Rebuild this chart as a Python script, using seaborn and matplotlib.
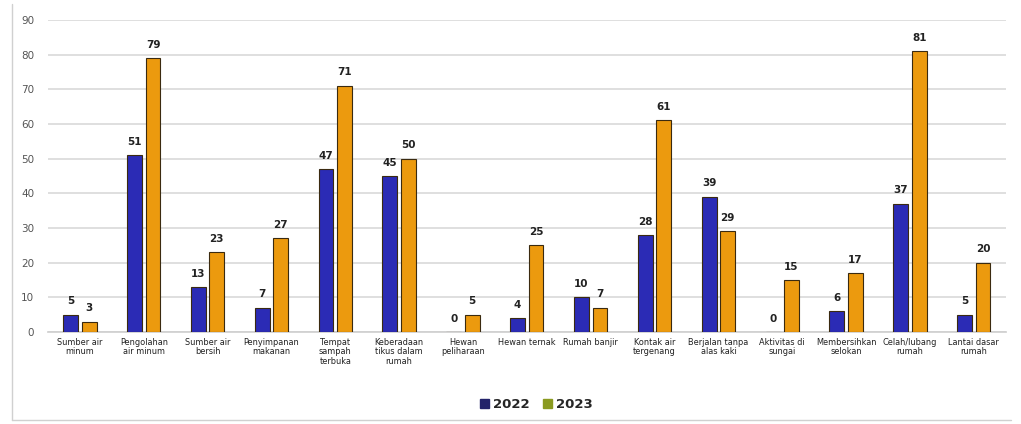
import matplotlib
matplotlib.use("Agg")
import matplotlib.pyplot as plt
from matplotlib.patches import Patch
from matplotlib.lines import Line2D
import seaborn as sns
import pandas as pd

categories = [
    "Sumber air\nminum", "Pengolahan\nair minum", "Sumber air\nbersih",
    "Penyimpanan\nmakanan", "Tempat\nsampah\nterbuka", "Keberadaan\ntikus dalam\nrumah",
    "Hewan\npeliharaan", "Hewan ternak", "Rumah banjir", "Kontak air\ntergenang",
    "Berjalan tanpa\nalas kaki", "Aktivitas di\nsungai", "Membersihkan\nselokan",
    "Celah/lubang\nrumah", "Lantai dasar\nrumah",
]
values_2022 = [5, 51, 13, 7, 47, 45, 0, 4, 10, 28, 39, 0, 6, 37, 5]
values_2023 = [3, 79, 23, 27, 71, 50, 5, 25, 7, 61, 29, 15, 17, 81, 20]
years = ["2022", "2023"]
yticks = list(range(0, 91, 10))

df = pd.DataFrame({
    "kategori": categories * 2,
    "tahun": [years[0]] * len(categories) + [years[1]] * len(categories),
    "nilai": values_2022 + values_2023,
})

sns.set_theme(style="white")
plt.rcParams["font.family"] = ["DejaVu Sans"]

colors = {"2022": "#2b2bb5", "2023": "#ec9a0e"}

fig = plt.figure(figsize=(10.21, 4.24), dpi=100)
ax = fig.add_axes([0.047, 0.217, 0.938, 0.736])

sns.barplot(data=df, x="kategori", y="nilai", hue="tahun", palette=colors,
            order=categories, hue_order=years, width=0.58, gap=0.2, saturation=1,
            edgecolor="#3a2a10", linewidth=0.8, legend=False, ax=ax, zorder=3)

for container in ax.containers:
    ax.bar_label(container, padding=6, fontsize=7.5, fontweight="bold", color="#222222")

ax.set_ylim(0, 90)
ax.set_xlim(-0.5, len(categories) - 0.5)
ax.set_yticks(yticks)
ax.yaxis.grid(True, color="#d9d9d9", linewidth=1.2, zorder=0)
ax.set_axisbelow(True)
for s in ax.spines.values():
    s.set_visible(False)
ax.spines["bottom"].set_visible(True)
ax.spines["bottom"].set_color("#d0d0d0")
ax.set_xlabel("")
ax.set_ylabel("")
ax.tick_params(axis="y", labelsize=7.5, labelcolor="#555555", length=0, pad=10)
ax.tick_params(axis="x", labelsize=6.6, labelcolor="#222222", length=0, pad=4)
for lbl in ax.get_xticklabels():
    lbl.set_linespacing(1.1)
    lbl.set_fontstretch("condensed")

handles = [Patch(facecolor="#23236a", edgecolor="#23236a"),
           Patch(facecolor="#8a9a20", edgecolor="#8a9a20")]
fig.legend(handles, years, loc="center", bbox_to_anchor=(0.525, 0.045), ncol=2,
           frameon=False, prop={"weight": "bold", "size": 9.5},
           handlelength=0.7, handleheight=0.7, handletextpad=0.3, columnspacing=1.0)

# outer frame: left and bottom border
fig.add_artist(Line2D([0.012, 0.012], [0.01, 0.99], transform=fig.transFigure,
                      color="#d0d0d0", linewidth=1.0))
fig.add_artist(Line2D([0.012, 0.99], [0.01, 0.01], transform=fig.transFigure,
                      color="#d0d0d0", linewidth=1.0))

fig.savefig("out.png", dpi=100, facecolor="white")
